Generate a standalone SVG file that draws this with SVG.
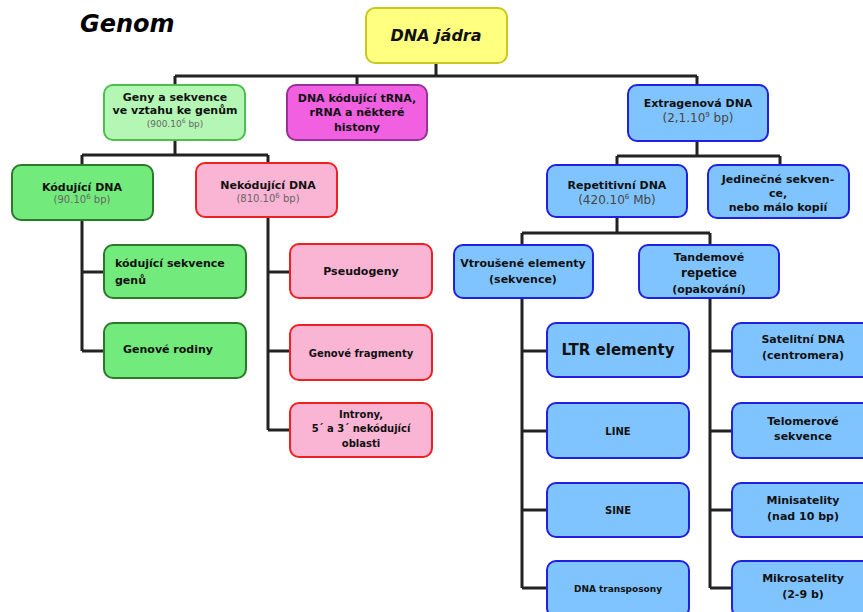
<svg xmlns="http://www.w3.org/2000/svg" width="863" height="612" viewBox="0 0 863 612">
<style>
text{font-family:"DejaVu Sans",Verdana,sans-serif;font-weight:bold;font-size:11px;fill:#111;text-anchor:middle}
.n{font-weight:normal;fill:#666;font-size:10px}
.yel{fill:#ffff80;stroke:#c8c820;stroke-width:2}
.lg{fill:#b4f7b4;stroke:#4cbf4c;stroke-width:2}
.g{fill:#72ea7c;stroke:#2a7a2a;stroke-width:2}
.mag{fill:#f060e0;stroke:#9a309a;stroke-width:2}
.pk{fill:#fab4d4;stroke:#ee2020;stroke-width:2}
.bl{fill:#80c4ff;stroke:#2020e0;stroke-width:2}
.c{fill:none;stroke:#222;stroke-width:3}
</style>
<text x="80" y="32" style="font-family:'DejaVu Sans',Verdana,sans-serif;font-style:italic;font-weight:bold;font-size:24px;text-anchor:start;fill:#000">Genom</text>
<g id="connectors">
<path class="c" d="M436,63V76M175,76H697M175,76V85M357,76V85M697,76V85"/>
<path class="c" d="M175,140V155M82,155H268M82,155V165M268,155V163"/>
<path class="c" d="M82,220V351M82,272H104M82,351H104"/>
<path class="c" d="M268,217V430M268,272H290M268,351H290M268,430H290"/>
<path class="c" d="M697,141V156M617,156H780M617,156V165M780,156V165"/>
<path class="c" d="M617,217V233M522,233H710M522,233V245M710,233V245"/>
<path class="c" d="M522,298V588M522,351H547M522,431H547M522,510H547M522,588H547"/>
<path class="c" d="M710,298V588M710,351H732M710,431H732M710,510H732M710,588H732"/>
</g>
<g id="dna-jadra"><rect class="yel" x="366" y="8" width="141" height="55" rx="9"/><text x="436" y="41" style="font-size:16px;font-style:italic">DNA jádra</text></g>
<g id="geny"><rect class="lg" x="104" y="85" width="141" height="55" rx="9"/><text x="175" y="101">Geny a sekvence</text><text x="175" y="114">ve vztahu ke genům</text><text class="n" x="175" y="127" style="font-size:9px">(900.10<tspan font-size="6" dy="-4">6</tspan><tspan dy="4"> bp)</tspan></text></g>
<g id="trna"><rect class="mag" x="287" y="85" width="140" height="55" rx="9"/><text x="357" y="102">DNA kódující tRNA,</text><text x="357" y="116">rRNA a některé</text><text x="357" y="131">histony</text></g>
<g id="extragenova"><rect class="bl" x="628" y="85" width="140" height="56" rx="9"/><text x="698" y="107">Extragenová DNA</text><text class="n" x="698" y="122" style="font-size:12px;fill:#444">(2,1.10<tspan font-size="7" dy="-5">9</tspan><tspan dy="5"> bp)</tspan></text></g>
<g id="kodujici"><rect class="g" x="12" y="165" width="141" height="55" rx="9"/><text x="82" y="191">Kódující DNA</text><text class="n" x="82" y="203">(90.10<tspan font-size="7" dy="-4">6</tspan><tspan dy="4"> bp)</tspan></text></g>
<g id="nekodujici"><rect class="pk" x="196" y="163" width="141" height="54" rx="9"/><text x="268" y="189">Nekódující DNA</text><text class="n" x="268" y="202">(810.10<tspan font-size="7" dy="-4">6</tspan><tspan dy="4"> bp)</tspan></text></g>
<g id="repetitivni"><rect class="bl" x="547" y="165" width="140" height="52" rx="9"/><text x="617" y="189">Repetitivní DNA</text><text class="n" x="617" y="204" style="font-size:12px;fill:#444">(420.10<tspan font-size="7" dy="-5">6</tspan><tspan dy="5"> Mb)</tspan></text></g>
<g id="jedinecne"><rect class="bl" x="708" y="165" width="141" height="53" rx="9"/><text x="778" y="183">Jedinečné sekven-</text><text x="778" y="197">ce,</text><text x="778" y="211">nebo málo kopií</text></g>
<g id="kod-sekvence"><rect class="g" x="104" y="245" width="142" height="53" rx="9"/><text x="115" y="267" style="text-anchor:start">kódující sekvence</text><text x="115" y="284" style="text-anchor:start">genů</text></g>
<g id="genove-rodiny"><rect class="g" x="104" y="323" width="142" height="55" rx="9"/><text x="168" y="353">Genové rodiny</text></g>
<g id="pseudogeny"><rect class="pk" x="290" y="244" width="142" height="54" rx="9"/><text x="361" y="275">Pseudogeny</text></g>
<g id="genove-fragmenty"><rect class="pk" x="290" y="325" width="142" height="55" rx="9"/><text x="361" y="357" style="font-size:10px">Genové fragmenty</text></g>
<g id="introny"><rect class="pk" x="290" y="403" width="142" height="54" rx="9"/><text x="361" y="418" style="font-size:10px">Introny,</text><text x="361" y="432" style="font-size:10px">5´ a 3´ nekódující</text><text x="361" y="447" style="font-size:10px">oblasti</text></g>
<g id="vtrousene"><rect class="bl" x="454" y="245" width="139" height="53" rx="9"/><text x="523" y="267">Vtroušené elementy</text><text x="523" y="283">(sekvence)</text></g>
<g id="tandemove"><rect class="bl" x="639" y="245" width="140" height="53" rx="9"/><text x="709" y="261">Tandemové</text><text x="709" y="277" style="font-size:12px">repetice</text><text x="709" y="293">(opakování)</text></g>
<g id="ltr"><rect class="bl" x="547" y="323" width="142" height="54" rx="9"/><text x="618" y="355" style="font-size:15px">LTR elementy</text></g>
<g id="line"><rect class="bl" x="547" y="403" width="142" height="55" rx="9"/><text x="618" y="435" style="font-size:10px">LINE</text></g>
<g id="sine"><rect class="bl" x="547" y="483" width="142" height="54" rx="9"/><text x="618" y="514" style="font-size:10px">SINE</text></g>
<g id="dna-transposony"><rect class="bl" x="547" y="561" width="142" height="56" rx="9"/><text x="618" y="592" style="font-size:9px">DNA transposony</text></g>
<g id="satelitni"><rect class="bl" x="732" y="323" width="142" height="54" rx="9"/><text x="803" y="343">Satelitní DNA</text><text x="803" y="359">(centromera)</text></g>
<g id="telomerove"><rect class="bl" x="732" y="403" width="142" height="55" rx="9"/><text x="803" y="425">Telomerové</text><text x="803" y="440">sekvence</text></g>
<g id="minisatelity"><rect class="bl" x="732" y="483" width="142" height="54" rx="9"/><text x="803" y="504">Minisatelity</text><text x="803" y="520">(nad 10 bp)</text></g>
<g id="mikrosatelity"><rect class="bl" x="732" y="561" width="142" height="56" rx="9"/><text x="803" y="582">Mikrosatelity</text><text x="803" y="598">(2-9 b)</text></g>
</svg>
